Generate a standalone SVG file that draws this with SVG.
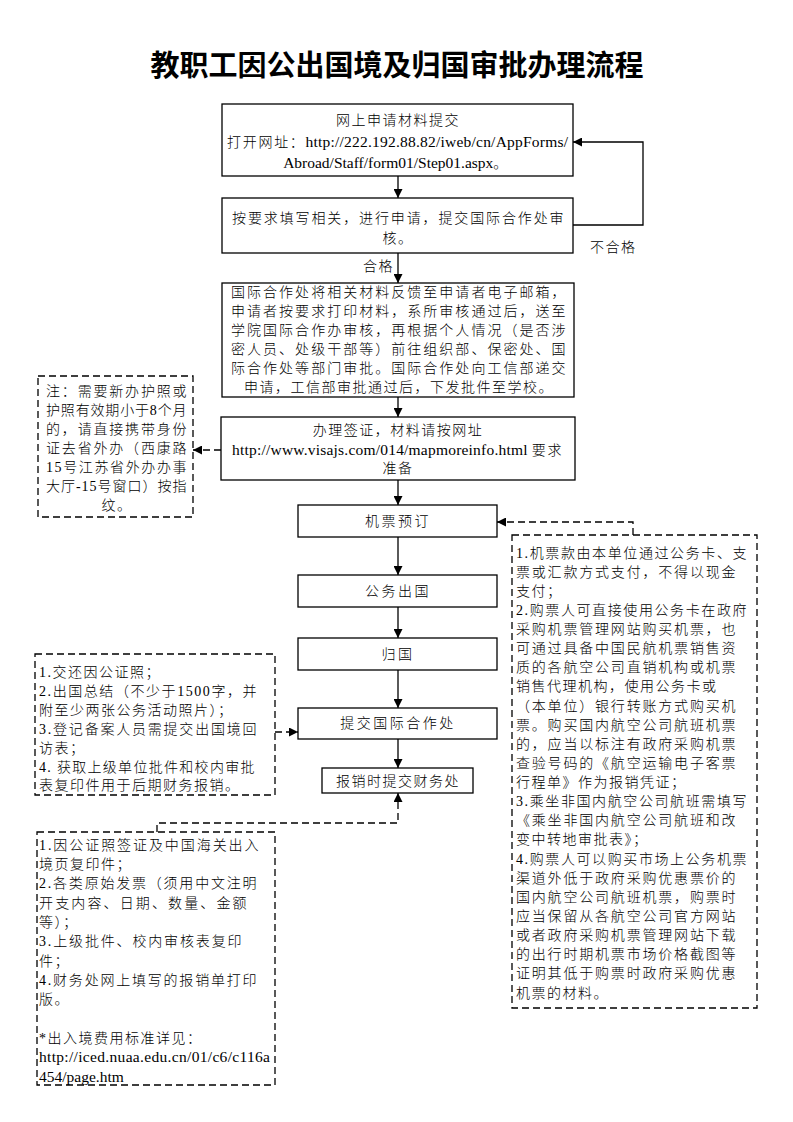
<svg xmlns="http://www.w3.org/2000/svg" width="793" height="1122" viewBox="0 0 793 1122">
<style>
.bg{fill:#fff}
.box{fill:#fff;stroke:#000;stroke-width:1.3}
.note{fill:#fff;stroke:#000;stroke-width:1.3;stroke-dasharray:7 4}
.ln{fill:none;stroke:#000;stroke-width:1.3}
.dl{fill:none;stroke:#000;stroke-width:1.3;stroke-dasharray:7 4}
.t{font-family:"Liberation Serif","Noto Sans CJK SC",serif;font-size:14px;font-weight:300;letter-spacing:1.5px;fill:#000}
.c{text-anchor:middle}
.b{letter-spacing:2.5px}
.l{font-size:15.5px;font-weight:400;letter-spacing:0}
.title{font-family:"Liberation Serif","Noto Sans CJK SC",serif;font-size:29px;font-weight:bold;text-anchor:middle;fill:#000}
</style>
<defs>
<marker id="ah" markerWidth="9" markerHeight="9" refX="9" refY="4.5" orient="auto" markerUnits="userSpaceOnUse">
<path d="M0,0 L9,4.5 L0,9 z" fill="#000"/>
</marker>
</defs>
<rect class="bg" x="0" y="0" width="793" height="1122"/>
<text class="title" x="397" y="76">教职工因公出国境及归国审批办理流程</text>

<g id="connectors">
<line class="ln" x1="398" y1="176" x2="398" y2="198" marker-end="url(#ah)"/>
<line class="ln" x1="398" y1="253" x2="398" y2="283" marker-end="url(#ah)"/>
<line class="ln" x1="398" y1="397" x2="398" y2="417" marker-end="url(#ah)"/>
<line class="ln" x1="398" y1="480" x2="398" y2="505" marker-end="url(#ah)"/>
<line class="ln" x1="398" y1="537" x2="398" y2="575" marker-end="url(#ah)"/>
<line class="ln" x1="398" y1="607" x2="398" y2="638" marker-end="url(#ah)"/>
<line class="ln" x1="398" y1="670" x2="398" y2="708" marker-end="url(#ah)"/>
<line class="ln" x1="398" y1="739" x2="398" y2="768" marker-end="url(#ah)"/>
<polyline class="ln" points="573,225 643,225 643,142 573,142" marker-end="url(#ah)"/>
<text class="t" x="590" y="252">不合格</text>
<text class="t" x="363" y="271">合格</text>
<line class="dl" x1="221" y1="450" x2="193" y2="450" marker-end="url(#ah)"/>
<polyline class="dl" points="633,535 633,522 497,522" marker-end="url(#ah)"/>
<line class="dl" x1="275" y1="732" x2="298" y2="732" marker-end="url(#ah)"/>
<polyline class="dl" points="157,832 157,823 398,823 398,793" marker-end="url(#ah)"/>
</g>

<g id="n1">
<rect class="box" x="222" y="104" width="351" height="72"/>
<text class="t c" x="398" y="125">网上申请材料提交</text>
<text class="t" x="227" y="147" textLength="341" lengthAdjust="spacing">打开网址：<tspan class="l">http://222.192.88.82/iweb/cn/AppForms/</tspan></text>
<text class="t c" x="396" y="168"><tspan class="l">Abroad/Staff/form01/Step01.aspx</tspan>。</text>
</g>

<g id="n2">
<rect class="box" x="222" y="198" width="351" height="55"/>
<text class="t" x="232" y="223" textLength="333" lengthAdjust="spacing">按要求填写相关，进行申请，提交国际合作处审</text>
<text class="t c" x="398" y="243">核。</text>
</g>

<g id="n3">
<rect class="box" x="222" y="283" width="352" height="114"/>
<text class="t" x="231" y="297" textLength="336" lengthAdjust="spacing">国际合作处将相关材料反馈至申请者电子邮箱，</text>
<text class="t" x="231" y="316" textLength="336" lengthAdjust="spacing">申请者按要求打印材料，系所审核通过后，送至</text>
<text class="t" x="231" y="335" textLength="336" lengthAdjust="spacing">学院国际合作办审核，再根据个人情况（是否涉</text>
<text class="t" x="231" y="354" textLength="336" lengthAdjust="spacing">密人员、处级干部等）前往组织部、保密处、国</text>
<text class="t" x="231" y="373" textLength="336" lengthAdjust="spacing">际合作处等部门审批。国际合作处向工信部递交</text>
<text class="t c" x="399" y="392">申请，工信部审批通过后，下发批件至学校。</text>
</g>

<g id="n4">
<rect class="box" x="221" y="417" width="354" height="63"/>
<text class="t c" x="398" y="435">办理签证，材料请按网址</text>
<text class="t" x="232" y="455" textLength="331" lengthAdjust="spacing"><tspan class="l">http://www.visajs.com/014/mapmoreinfo.html </tspan>要求</text>
<text class="t c" x="398" y="473">准备</text>
</g>

<g id="n5">
<rect class="box" x="298" y="505" width="199" height="32"/>
<text class="t c b" x="398" y="526">机票预订</text>
</g>
<g id="n6">
<rect class="box" x="298" y="575" width="199" height="32"/>
<text class="t c b" x="398" y="596">公务出国</text>
</g>
<g id="n7">
<rect class="box" x="298" y="638" width="199" height="32"/>
<text class="t c b" x="398" y="659">归国</text>
</g>
<g id="n8">
<rect class="box" x="298" y="708" width="199" height="31"/>
<text class="t c b" x="398" y="728">提交国际合作处</text>
</g>
<g id="n9">
<rect class="box" x="322" y="768" width="151" height="25"/>
<text class="t c" x="398" y="786">报销时提交财务处</text>
</g>

<g id="note1">
<rect class="note" x="38" y="376" width="155" height="141"/>
<text class="t" x="46" y="396" textLength="142" lengthAdjust="spacing">注：需要新办护照或</text>
<text class="t" x="46" y="415" textLength="142" lengthAdjust="spacing">护照有效期小于8个月</text>
<text class="t" x="46" y="434" textLength="142" lengthAdjust="spacing">的，请直接携带身份</text>
<text class="t" x="46" y="453" textLength="142" lengthAdjust="spacing">证去省外办（西康路</text>
<text class="t" x="46" y="472" textLength="142" lengthAdjust="spacing">15号江苏省外办办事</text>
<text class="t" x="46" y="491" textLength="142" lengthAdjust="spacing">大厅-15号窗口）按指</text>
<text class="t c" x="117" y="510">纹。</text>
</g>

<g id="note2">
<rect class="note" x="512" y="535" width="245" height="473"/>
<text class="t" x="516" y="558" textLength="232" lengthAdjust="spacing">1.机票款由本单位通过公务卡、支</text>
<text class="t" x="516" y="577" textLength="221" lengthAdjust="spacing">票或汇款方式支付，不得以现金</text>
<text class="t" x="516" y="596">支付；</text>
<text class="t" x="516" y="615" textLength="232" lengthAdjust="spacing">2.购票人可直接使用公务卡在政府</text>
<text class="t" x="516" y="634" textLength="221" lengthAdjust="spacing">采购机票管理网站购买机票，也</text>
<text class="t" x="516" y="653" textLength="221" lengthAdjust="spacing">可通过具备中国民航机票销售资</text>
<text class="t" x="516" y="672" textLength="221" lengthAdjust="spacing">质的各航空公司直销机构或机票</text>
<text class="t" x="516" y="691">销售代理机构，使用公务卡或</text>
<text class="t" x="516" y="711" textLength="221" lengthAdjust="spacing">（本单位）银行转账方式购买机</text>
<text class="t" x="516" y="730" textLength="221" lengthAdjust="spacing">票。购买国内航空公司航班机票</text>
<text class="t" x="516" y="749" textLength="221" lengthAdjust="spacing">的，应当以标注有政府采购机票</text>
<text class="t" x="516" y="768" textLength="221" lengthAdjust="spacing">查验号码的《航空运输电子客票</text>
<text class="t" x="516" y="787">行程单》作为报销凭证；</text>
<text class="t" x="516" y="806" textLength="232" lengthAdjust="spacing">3.乘坐非国内航空公司航班需填写</text>
<text class="t" x="516" y="825" textLength="221" lengthAdjust="spacing">《乘坐非国内航空公司航班和改</text>
<text class="t" x="516" y="844">变中转地审批表》；</text>
<text class="t" x="516" y="864" textLength="232" lengthAdjust="spacing">4.购票人可以购买市场上公务机票</text>
<text class="t" x="516" y="883" textLength="221" lengthAdjust="spacing">渠道外低于政府采购优惠票价的</text>
<text class="t" x="516" y="902" textLength="221" lengthAdjust="spacing">国内航空公司航班机票，购票时</text>
<text class="t" x="516" y="921" textLength="221" lengthAdjust="spacing">应当保留从各航空公司官方网站</text>
<text class="t" x="516" y="940" textLength="221" lengthAdjust="spacing">或者政府采购机票管理网站下载</text>
<text class="t" x="516" y="959" textLength="221" lengthAdjust="spacing">的出行时期机票市场价格截图等</text>
<text class="t" x="516" y="978" textLength="221" lengthAdjust="spacing">证明其低于购票时政府采购优惠</text>
<text class="t" x="516" y="998">机票的材料。</text>
</g>

<g id="note3">
<rect class="note" x="35" y="654" width="240" height="141"/>
<text class="t" x="39" y="677">1.交还因公证照；</text>
<text class="t" x="39" y="696" textLength="219" lengthAdjust="spacing">2.出国总结（不少于1500字，并</text>
<text class="t" x="39" y="715">附至少两张公务活动照片）；</text>
<text class="t" x="39" y="734" textLength="219" lengthAdjust="spacing">3.登记备案人员需提交出国境回</text>
<text class="t" x="39" y="753">访表；</text>
<text class="t" x="39" y="772" textLength="217" lengthAdjust="spacing">4. 获取上级单位批件和校内审批</text>
<text class="t" x="39" y="790">表复印件用于后期财务报销。</text>
</g>

<g id="note4">
<rect class="note" x="37" y="832" width="238" height="253"/>
<text class="t" x="39" y="850" textLength="221" lengthAdjust="spacing">1.因公证照签证及中国海关出入</text>
<text class="t" x="39" y="869">境页复印件；</text>
<text class="t" x="39" y="888" textLength="219" lengthAdjust="spacing">2.各类原始发票（须用中文注明</text>
<text class="t" x="39" y="908" textLength="209" lengthAdjust="spacing">开支内容、日期、数量、金额</text>
<text class="t" x="39" y="927">等）；</text>
<text class="t" x="39" y="946" textLength="204" lengthAdjust="spacing">3.上级批件、校内审核表复印</text>
<text class="t" x="39" y="966">件；</text>
<text class="t" x="39" y="985" textLength="219" lengthAdjust="spacing">4.财务处网上填写的报销单打印</text>
<text class="t" x="39" y="1004">版。</text>
<text class="t" x="39" y="1043">*出入境费用标准详见：</text>
<text class="t" x="39" y="1062" textLength="231" lengthAdjust="spacing"><tspan class="l">http://iced.nuaa.edu.cn/01/c6/c116a</tspan></text>
<text class="t" x="39" y="1082"><tspan class="l">454/page.htm</tspan></text>
</g>
</svg>
